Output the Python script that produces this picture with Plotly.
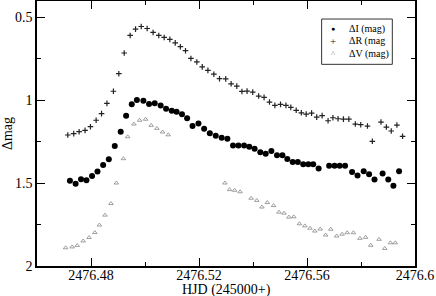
import plotly.graph_objects as go

# ΔI (mag) series
i_hjd = [2476.4722, 2476.4743, 2476.4763, 2476.4783, 2476.4804, 2476.4824, 2476.4845, 2476.4866,
         2476.4888, 2476.4910, 2476.4930, 2476.4951, 2476.4970, 2476.4994, 2476.5015, 2476.5036,
         2476.5058, 2476.5078, 2476.5099, 2476.5117, 2476.5137, 2476.5156, 2476.5176, 2476.5198,
         2476.5219, 2476.5240, 2476.5262, 2476.5284, 2476.5305, 2476.5326, 2476.5346, 2476.5367,
         2476.5386, 2476.5406, 2476.5427, 2476.5447, 2476.5468, 2476.5489, 2476.5509, 2476.5527,
         2476.5547, 2476.5566, 2476.5586, 2476.5605, 2476.5623, 2476.5643, 2476.5682, 2476.5702,
         2476.5721, 2476.5741, 2476.5767, 2476.5787, 2476.5810, 2476.5830, 2476.5850, 2476.5880,
         2476.5901, 2476.5920, 2476.5941]
i_mag = [1.486, 1.504, 1.476, 1.482, 1.456, 1.430, 1.390, 1.355,
         1.275, 1.189, 1.093, 1.024, 0.998, 1.002, 1.022, 1.018,
         1.031, 1.051, 1.063, 1.069, 1.084, 1.108, 1.155, 1.139,
         1.171, 1.198, 1.214, 1.225, 1.231, 1.273, 1.273, 1.273,
         1.280, 1.292, 1.313, 1.323, 1.305, 1.331, 1.331, 1.354,
         1.372, 1.372, 1.386, 1.386, 1.386, 1.412, 1.394, 1.394,
         1.394, 1.394, 1.432, 1.454, 1.428, 1.446, 1.478, 1.442,
         1.478, 1.516, 1.428]

# ΔR (mag) series
r_hjd = [2476.4714, 2476.4736, 2476.4756, 2476.4778, 2476.4798, 2476.4819, 2476.4839, 2476.4859,
         2476.4883, 2476.4903, 2476.4923, 2476.4945, 2476.4965, 2476.4986, 2476.5008, 2476.5030,
         2476.5051, 2476.5071, 2476.5092, 2476.5112, 2476.5131, 2476.5150, 2476.5170, 2476.5192,
         2476.5212, 2476.5233, 2476.5255, 2476.5276, 2476.5299, 2476.5319, 2476.5340, 2476.5359,
         2476.5378, 2476.5399, 2476.5421, 2476.5441, 2476.5461, 2476.5481, 2476.5502, 2476.5522,
         2476.5540, 2476.5560, 2476.5579, 2476.5597, 2476.5617, 2476.5636, 2476.5656, 2476.5678,
         2476.5696, 2476.5715, 2476.5735, 2476.5755, 2476.5779, 2476.5799, 2476.5824, 2476.5842,
         2476.5874, 2476.5894, 2476.5912, 2476.5933, 2476.5954]
r_mag = [1.209, 1.201, 1.189, 1.181, 1.159, 1.120, 1.080, 1.018,
         0.945, 0.839, 0.714, 0.608, 0.570, 0.554, 0.566, 0.590,
         0.608, 0.620, 0.632, 0.653, 0.676, 0.700, 0.747, 0.768,
         0.798, 0.819, 0.842, 0.869, 0.870, 0.900, 0.914, 0.946,
         0.944, 0.950, 0.974, 0.982, 1.010, 1.030, 1.024, 1.030,
         1.042, 1.060, 1.075, 1.083, 1.077, 1.101, 1.092, 1.123,
         1.105, 1.111, 1.113, 1.113, 1.143, 1.147, 1.155, 1.247,
         1.131, 1.161, 1.185, 1.149, 1.217]

# ΔV (mag) series
v_hjd = [2476.4706, 2476.4730, 2476.4749, 2476.4771, 2476.4793, 2476.4814, 2476.4831, 2476.4852,
         2476.4874, 2476.4894, 2476.4920, 2476.4936, 2476.4959, 2476.4980, 2476.5002, 2476.5023,
         2476.5044, 2476.5065, 2476.5086, 2476.5296, 2476.5313, 2476.5332, 2476.5352, 2476.5393,
         2476.5414, 2476.5433, 2476.5453, 2476.5476, 2476.5496, 2476.5515, 2476.5533, 2476.5551,
         2476.5572, 2476.5592, 2476.5611, 2476.5629, 2476.5649, 2476.5669, 2476.5688, 2476.5710,
         2476.5730, 2476.5749, 2476.5772, 2476.5796, 2476.5817, 2476.5836, 2476.5867, 2476.5888,
         2476.5909, 2476.5927]
v_mag = [1.890, 1.885, 1.876, 1.849, 1.828, 1.798, 1.753, 1.693,
         1.623, 1.499, 1.352, 1.220, 1.143, 1.120, 1.114, 1.151,
         1.169, 1.191, 1.208, 1.499, 1.539, 1.543, 1.552, 1.591,
         1.604, 1.644, 1.617, 1.635, 1.675, 1.681, 1.705, 1.703,
         1.745, 1.758, 1.772, 1.789, 1.777, 1.813, 1.778, 1.819,
         1.808, 1.799, 1.799, 1.833, 1.827, 1.875, 1.839, 1.894,
         1.860, 1.860]

series_names = ["ΔI (mag)", "ΔR (mag", "ΔV (mag)"]
legend_glyphs = ["●", "+", "^"]
x_title = "HJD (245000+)"
y_title = "Δmag"

x_tickvals = [2476.48, 2476.52, 2476.56, 2476.6]
x_ticktext = ["2476.48", "2476.52", "2476.56", "2476.6"]
x_minor = [2476.46, 2476.50, 2476.54, 2476.58]
y_tickvals = [0.5, 1, 1.5, 2]
y_ticktext = ["0.5", "1", "1.5", "2"]
y_minor = [0.75, 1.25, 1.75]

FONT = "Liberation Serif, Times New Roman, serif"
colors = ["black", "#222", "#888"]

fig = go.Figure()
fig.add_trace(go.Scatter(x=i_hjd, y=i_mag, mode="markers", name=series_names[0],
                         marker=dict(symbol="circle", size=6, color=colors[0])))
fig.add_trace(go.Scatter(x=r_hjd, y=r_mag, mode="markers", name=series_names[1],
                         marker=dict(symbol="cross-thin-open", size=4, color=colors[1],
                                     line=dict(width=1.2, color=colors[1]))))
fig.add_trace(go.Scatter(x=v_hjd, y=v_mag, mode="markers", name=series_names[2],
                         marker=dict(symbol="triangle-up-open", size=4, color=colors[2],
                                     line=dict(width=0.8, color=colors[2]))))

axis_common = dict(showgrid=False, zeroline=False, showline=True, linecolor="black",
                   linewidth=1.5, mirror="allticks", ticks="inside", ticklen=8,
                   tickwidth=1.2, tickcolor="black",
                   tickfont=dict(family=FONT, size=14, color="black"))

fig.update_xaxes(range=[2476.46, 2476.6], tickmode="array", tickvals=x_tickvals,
                 ticktext=x_ticktext, ticklabelstandoff=-5,
                 minor=dict(tickmode="array", tickvals=x_minor, ticks="inside", ticklen=4,
                            tickwidth=1.2, tickcolor="black", showgrid=False),
                 **axis_common)
fig.update_yaxes(range=[2.0, 0.4], tickmode="array", tickvals=y_tickvals,
                 ticktext=y_ticktext,
                 minor=dict(tickmode="array", tickvals=y_minor, ticks="inside", ticklen=4,
                            tickwidth=1.2, tickcolor="black", showgrid=False),
                 title=dict(text=y_title, font=dict(family=FONT, size=14, color="black")),
                 **axis_common)

# x-axis title placed just below the tick labels, as in the original
fig.add_annotation(xref="paper", yref="paper", x=0.5, y=-0.090, text=x_title,
                   showarrow=False, xanchor="center", yanchor="middle",
                   font=dict(family=FONT, size=14, color="black"))

# legend box drawn by hand (paper coordinates) to match the compact original legend
fig.add_shape(type="rect", xref="paper", yref="paper", x0=0.753, x1=0.940, y0=0.761, y1=0.932,
              line=dict(color="#333", width=1), fillcolor="white", layer="above")
row_y = [0.893, 0.849, 0.801]
glyph_sizes = [7, 11, 9]
for k in range(3):
    fig.add_annotation(xref="paper", yref="paper", x=0.784, y=row_y[k], text=legend_glyphs[k],
                       showarrow=False, xanchor="center", yanchor="middle",
                       font=dict(family=FONT, size=glyph_sizes[k], color=colors[k]))
    fig.add_annotation(xref="paper", yref="paper", x=0.819, y=row_y[k], text=series_names[k],
                       showarrow=False, xanchor="left", yanchor="middle",
                       font=dict(family=FONT, size=10, color="black"))

fig.update_layout(
    width=436, height=296,
    margin=dict(l=37, r=21, t=1, b=30, autoexpand=False),
    paper_bgcolor="white", plot_bgcolor="white",
    font=dict(family=FONT, size=14, color="black"),
    showlegend=False,
)

fig.write_html("out.html", config={"displayModeBar": False},
               post_script="document.body.style.margin='0';document.body.style.padding='0';")
